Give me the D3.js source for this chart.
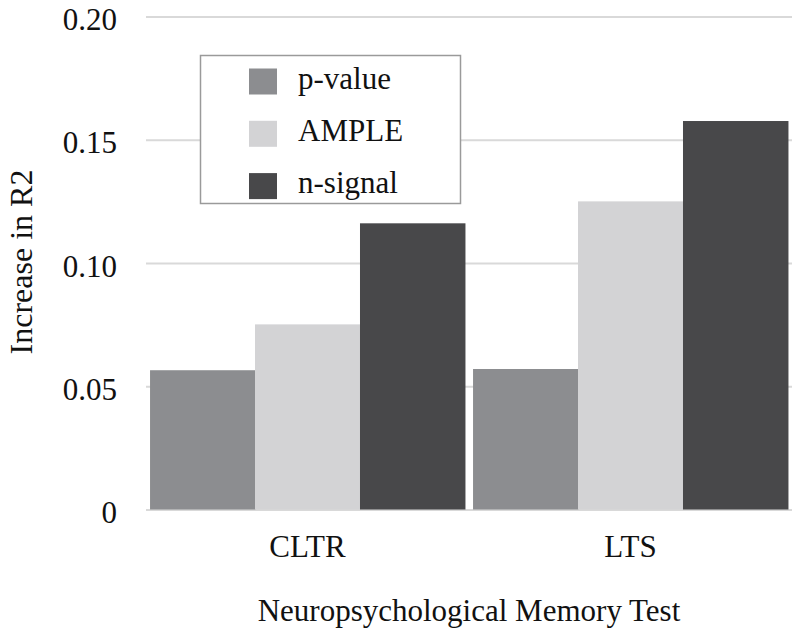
<!DOCTYPE html>
<html>
<head>
<meta charset="utf-8">
<script src="https://cdn.jsdelivr.net/npm/d3@7"></script>
</head>
<body>
<script>
// chart data
var categories = ["CLTR", "LTS"];
var series = ["p-value", "AMPLE", "n-signal"];
var pValue  = [0.0565, 0.0570];
var ample   = [0.0751, 0.1250];
var nSignal = [0.1161, 0.1576];
var yTicks = [0, 0.05, 0.10, 0.15, 0.20];
var yTickLabels = ["0", "0.05", "0.10", "0.15", "0.20"];

var colors = ["#8c8d90", "#d3d3d5", "#48484a"];
var FONT = "'Liberation Serif', Tinos, 'Times New Roman', FreeSerif, 'DejaVu Serif', 'Noto Serif', serif";

// rows built from the arrays above
var rows = categories.map(function(c, i) {
    return { cat: c, vals: [pValue[i], ample[i], nSignal[i]] };
});

var W = 800, H = 637;
var margin = { top: 16.5, right: 8, bottom: 127.5, left: 146 };
var width = W - margin.left - margin.right;
var height = H - margin.top - margin.bottom;

var svg = d3.select("body").append("svg")
    .attr("width", W)
    .attr("height", H)
    .style("position", "absolute")
    .style("left", "0px")
    .style("top", "0px")
    .style("background", "#fff");

var g = svg.append("g")
    .attr("transform", "translate(" + margin.left + "," + margin.top + ")");

var y = d3.scaleLinear().domain([0, 0.20]).range([height, 0]);

var x0 = d3.scaleBand()
    .domain(categories)
    .range([0, width])
    .paddingInner(0.025)
    .paddingOuter(0.0125);

var x1 = d3.scaleBand()
    .domain(series)
    .range([0, x0.bandwidth()])
    .padding(0);

/* y axis with gridlines */
var yAxis = g.append("g")
    .call(d3.axisLeft(y)
        .tickValues(yTicks)
        .tickFormat(function(d, i) { return yTickLabels[i]; })
        .tickSize(-width)
        .tickPadding(29));
yAxis.select(".domain").remove();
yAxis.selectAll(".tick line")
    .attr("stroke", "#d9d9d9")
    .attr("stroke-width", 2);
yAxis.selectAll(".tick text")
    .attr("dy", "0.42em")
    .style("font-family", FONT)
    .style("font-size", "31px")
    .style("fill", "#111");

/* bars */
var groups = g.selectAll(".grp")
    .data(rows)
    .enter()
    .append("g")
    .attr("class", "grp")
    .attr("transform", function(d) { return "translate(" + x0(d.cat) + ",0)"; });

groups.selectAll("rect")
    .data(function(d) { return d.vals.map(function(v, i) { return { s: series[i], v: v, i: i }; }); })
    .enter()
    .append("rect")
    .attr("x", function(d) { return x1(d.s); })
    .attr("y", function(d) { return y(d.v); })
    .attr("width", x1.bandwidth() + 0.5)
    .attr("height", function(d) { return height - y(d.v); })
    .style("fill", function(d) { return colors[d.i]; });

/* category labels */
var xAxis = g.append("g")
    .attr("transform", "translate(0," + height + ")")
    .call(d3.axisBottom(x0).tickSize(0).tickPadding(0));
xAxis.select(".domain").remove();
xAxis.selectAll(".tick text")
    .attr("y", 47)
    .attr("dy", 0)
    .style("font-family", FONT)
    .style("font-size", "31px")
    .style("fill", "#111");

// axis titles
svg.append("text")
    .attr("x", margin.left + width / 2)
    .attr("y", 621)
    .attr("text-anchor", "middle")
    .style("font-family", FONT)
    .style("font-size", "31px")
    .style("fill", "#111")
    .text("Neuropsychological Memory Test");

svg.append("text")
    .attr("transform", "translate(32," + 262 + ") rotate(-90)")
    .attr("text-anchor", "middle")
    .style("font-family", FONT)
    .style("font-size", "32px")
    .style("fill", "#111")
    .text("Increase in R2");

/* legend box, drawn over the gridlines */
var legend = svg.append("g");
legend.append("rect")
    .attr("x", 200.5)
    .attr("y", 55.5)
    .attr("width", 260)
    .attr("height", 148)
    .style("fill", "#fff")
    .style("stroke", "#9a9a9a")
    .style("stroke-width", 1.5);

var lrow = legend.selectAll(".lrow")
    .data(series)
    .enter()
    .append("g")
    .attr("class", "lrow")
    .attr("transform", function(d, i) { return "translate(249," + (68.5 + i * 52.3) + ")"; });

lrow.append("rect")
    .attr("width", 28)
    .attr("height", 26)
    .style("fill", function(d, i) { return colors[i]; });

lrow.append("text")
    .attr("x", 49)
    .attr("y", 20)
    .style("font-family", FONT)
    .style("font-size", "31px")
    .style("fill", "#111")
    .text(function(d) { return d; });
</script>
</body>
</html>
